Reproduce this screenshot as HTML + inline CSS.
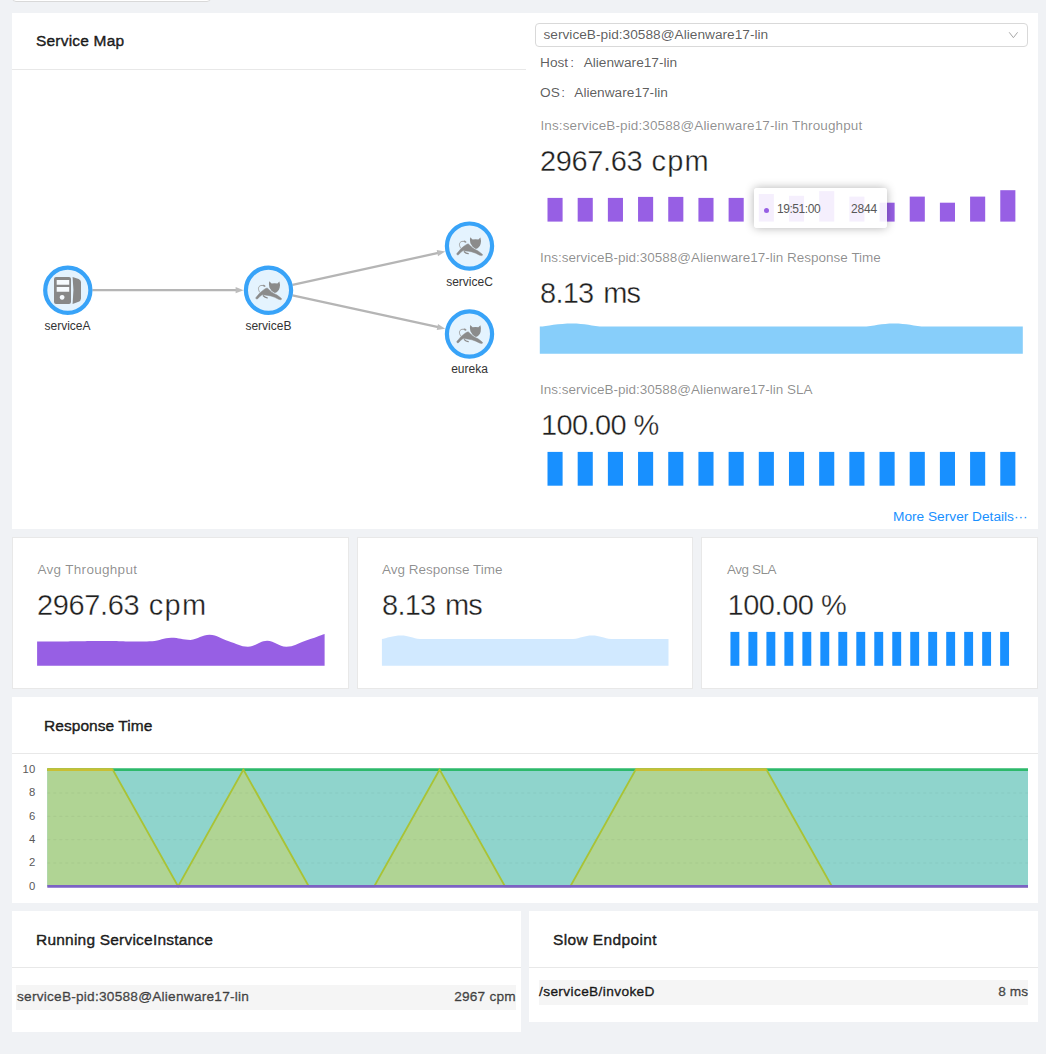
<!DOCTYPE html>
<html>
<head>
<meta charset="utf-8">
<title>Service Dashboard</title>
<style>
*{box-sizing:border-box;margin:0;padding:0}
html,body{width:1046px;height:1054px;overflow:hidden;background:#f0f2f5}
body{font-family:"Liberation Sans",sans-serif;color:rgba(0,0,0,.65);position:relative}
.abs{position:absolute}
.card{position:absolute;background:#fff}
.bcard{position:absolute;background:#fff;border:1px solid #e8e8e8}
.title{position:absolute;font-size:15.5px;font-weight:normal;color:rgba(0,0,0,.85);-webkit-text-stroke:0.45px rgba(0,0,0,.85);white-space:nowrap;line-height:20px;letter-spacing:0}
.hr{position:absolute;height:1px;background:#e8e8e8}
.t{position:absolute;white-space:nowrap;line-height:20px}
.lbl{color:rgba(0,0,0,.45);font-size:13.5px}
.big{color:rgba(0,0,0,.9);font-size:29px;line-height:38px;-webkit-text-stroke:0.35px #fff}
.med{font-size:13.7px;-webkit-text-stroke:0.4px rgba(0,0,0,.65)}
.dk{color:rgba(0,0,0,.85);-webkit-text-stroke:0.4px rgba(0,0,0,.85)}
.row{position:absolute;background:#f5f5f5;height:25px}
svg{position:absolute;overflow:visible}
</style>
</head>
<body>

<!-- top-left cut-off select -->
<div class="abs" style="left:12px;top:-30px;width:199px;height:32px;border:1px solid #d9d9d9;border-radius:4px;background:#fff"></div>

<!-- ===== Card 1 : Service map + instance panel ===== -->
<div class="card" style="left:12px;top:13px;width:1026px;height:516px"></div>
<div class="title" style="left:36px;top:31px;letter-spacing:0.2px">Service Map</div>
<div class="hr" style="left:12px;top:69px;width:514px"></div>

<!-- topology -->
<svg id="topo" style="left:0;top:0" width="525" height="528" viewBox="0 0 525 528">
<g id="edges"><line x1="92.4" y1="290.2" x2="236.6" y2="290.2" stroke="#b5b5b5" stroke-width="2.3"/><polygon points="243.6,290.2 235.6,293.3 235.6,287.1" fill="#bcbcbc"/><line x1="292.5" y1="284.9" x2="438.3" y2="252.9" stroke="#b5b5b5" stroke-width="2.3"/><polygon points="445.2,251.4 438.0,256.2 436.7,250.1" fill="#bcbcbc"/><line x1="292.5" y1="295.4" x2="438.3" y2="327.2" stroke="#b5b5b5" stroke-width="2.3"/><polygon points="445.2,328.7 436.7,330.0 438.0,324.0" fill="#bcbcbc"/></g>
<defs><g id="cat" fill="#8b8b8b">
<path d="M0.7,-8.9 L3.1,-6.7 Q6,-7.2 8.9,-6.7 L10.9,-8.7 Q11.9,-5.5 11.2,-2.6 Q10.2,1.6 6.4,2.9 Q2.6,1.2 0.9,-2.8 Q0,-5.8 0.7,-8.9Z"/>
<path d="M-1.38,-2.23 L0.91,-0.31 L3.20,1.98 L6.27,3.70 L8.56,4.85 L10.86,6.57 L12.96,8.29 L12.90,9.20 L12.00,9.50 L10.09,9.05 L6.27,7.14 L2.44,5.80 L-0.62,5.23 L-3.67,4.85 L-6.35,4.47 L-8.65,6.19 L-10.75,8.48 L-11.60,8.90 L-12.28,8.67 L-12.70,8.10 L-12.66,7.52 L-10.94,5.42 L-8.65,2.74 L-5.97,0.45 L-3.29,-1.46Z" stroke="#8b8b8b" stroke-width="0.5" stroke-linejoin="round"/>
<path d="M-5.2,5.6 Q-3.6,7.3 -1.3,7.6" fill="none" stroke="#8b8b8b" stroke-width="1.3" stroke-linecap="round"/>
<path d="M-8.4,2.4 C-10.6,-0.2 -10.8,-3.8 -7.6,-4.7 L-4.8,-4.8" fill="none" stroke="#9a9a9a" stroke-width="0.9"/>
<ellipse cx="-4.4" cy="-4.4" rx="1.5" ry="0.9" transform="rotate(25 -4.4 -4.4)" fill="#969696"/>
</g></defs>
<circle cx="67.8" cy="290.2" r="22.6" fill="#e4f3fe" stroke="#38a3f8" stroke-width="4.2"/>
<circle cx="268.5" cy="290.2" r="22.6" fill="#e4f3fe" stroke="#38a3f8" stroke-width="4.2"/>
<use href="#cat" x="268.5" y="290.2"/>
<circle cx="469.5" cy="246.1" r="22.6" fill="#e4f3fe" stroke="#38a3f8" stroke-width="4.2"/>
<use href="#cat" x="469.5" y="246.1"/>
<circle cx="469.5" cy="334.0" r="22.6" fill="#e4f3fe" stroke="#38a3f8" stroke-width="4.2"/>
<use href="#cat" x="469.5" y="334.0"/>
<rect x="56" y="279" width="14" height="14" fill="#f6fafd"/><circle cx="62.1" cy="297.3" r="2.8" fill="#f6fafd"/>
<g fill="#888888">
<path d="M56,277.1 h13 a2,2 0 0 1 2,2 v22.8 a2,2 0 0 1 -2,2 h-13 a2,2 0 0 1 -2,-2 v-22.8 a2,2 0 0 1 2,-2 Z M56.7,280 v4.8 h12.5 v-4.8 Z M56.7,287 v4.8 h12.5 v-4.8 Z M62.1,294.9 a2.4,2.4 0 1 0 0.01,0 Z" fill-rule="evenodd"/>
<path d="M72.6,277.1 L78.6,278.9 Q80.8,279.8 81,282 L81,298.4 Q80.8,300.8 78.6,301.8 L72.6,303.9 Q74.3,290.5 72.6,277.1 Z"/>
</g>
<text x="67.5" y="330.2" text-anchor="middle" font-size="12" fill="#333" font-family="Liberation Sans, sans-serif">serviceA</text>
<text x="268.4" y="330.2" text-anchor="middle" font-size="12" fill="#333" font-family="Liberation Sans, sans-serif">serviceB</text>
<text x="469.5" y="285.8" text-anchor="middle" font-size="12" fill="#333" font-family="Liberation Sans, sans-serif">serviceC</text>
<text x="469.5" y="372.9" text-anchor="middle" font-size="12" fill="#333" font-family="Liberation Sans, sans-serif">eureka</text>
</svg>

<!-- right panel -->
<div class="abs" style="left:535px;top:23px;width:493px;height:24px;border:1px solid #d9d9d9;border-radius:4px;background:#fff"></div>
<div class="t" style="left:543.5px;top:25px;font-size:13.7px">serviceB-pid:30588@Alienware17-lin</div>
<svg style="left:1008px;top:30px" width="12" height="10" viewBox="0 0 12 10"><path d="M1.2,2.3 L5.4,7.7 L9.6,2.3" fill="none" stroke="#a8a8a8" stroke-width="1"/></svg>
<div class="t" style="left:540px;top:53px;font-size:13.7px">Host<span style="display:inline-block;width:15.5px;text-align:left;padding-left:2px">:</span>Alienware17-lin</div>
<div class="t" style="left:540px;top:83px;font-size:13.7px">OS<span style="display:inline-block;width:14.5px;text-align:left;padding-left:1.5px">:</span>Alienware17-lin</div>

<div class="t lbl" style="left:540.5px;top:116px;letter-spacing:0.12px">Ins:serviceB-pid:30588@Alienware17-lin Throughput</div>
<div class="t big" style="left:540px;top:142px"><span style="letter-spacing:-0.35px">2967.63</span><span style="letter-spacing:1.1px"> cpm</span></div>

<div class="t lbl" style="left:540px;top:248px">Ins:serviceB-pid:30588@Alienware17-lin Response Time</div>
<div class="t big" style="left:540px;top:274px;letter-spacing:-0.75px;word-spacing:2.4px">8.13 ms</div>

<div class="t lbl" style="left:540px;top:380px">Ins:serviceB-pid:30588@Alienware17-lin SLA</div>
<div class="t big" style="left:541px;top:406px;letter-spacing:-0.6px">100.00 %</div>

<svg style="left:0;top:0" width="1046" height="540" viewBox="0 0 1046 540"><rect x="547.50" y="197.9" width="15.1" height="23.7" fill="#975fe4"/><rect x="577.68" y="197.9" width="15.1" height="23.7" fill="#975fe4"/><rect x="607.87" y="197.9" width="15.1" height="23.7" fill="#975fe4"/><rect x="638.05" y="196.9" width="15.1" height="24.7" fill="#975fe4"/><rect x="668.24" y="196.9" width="15.1" height="24.7" fill="#975fe4"/><rect x="698.42" y="197.9" width="15.1" height="23.7" fill="#975fe4"/><rect x="728.61" y="197.9" width="15.1" height="23.7" fill="#975fe4"/><rect x="758.79" y="194.0" width="15.1" height="27.6" fill="#975fe4"/><rect x="788.98" y="195.8" width="15.1" height="25.8" fill="#975fe4"/><rect x="819.16" y="191.1" width="15.1" height="30.5" fill="#975fe4"/><rect x="849.35" y="196.6" width="15.1" height="25.0" fill="#975fe4"/><rect x="879.53" y="202.7" width="15.1" height="18.9" fill="#975fe4"/><rect x="909.72" y="196.6" width="15.1" height="25.0" fill="#975fe4"/><rect x="939.90" y="202.7" width="15.1" height="18.9" fill="#975fe4"/><rect x="970.09" y="196.6" width="15.1" height="25.0" fill="#975fe4"/><rect x="1000.27" y="190.2" width="15.1" height="31.4" fill="#975fe4"/><path d="M539.80,326.60 C546.24,325.96 559.12,323.40 572.00,323.40 C584.88,323.40 591.32,325.96 604.20,326.60 C617.08,326.60 623.52,326.60 636.40,326.60 C649.28,326.60 655.72,326.60 668.60,326.60 C681.48,326.60 687.92,326.60 700.80,326.60 C713.68,326.60 720.12,326.60 733.00,326.60 C745.88,326.60 752.32,326.60 765.20,326.60 C778.08,326.60 784.52,326.60 797.40,326.60 C810.28,326.60 816.72,326.60 829.60,326.60 C842.48,326.60 848.92,326.60 861.80,326.60 C874.68,325.96 881.12,323.40 894.00,323.40 C906.88,323.40 913.32,325.96 926.20,326.60 C939.08,326.60 945.52,326.60 958.40,326.60 C971.28,326.60 977.72,326.60 990.60,326.60 C1003.48,326.60 1016.36,326.60 1022.80,326.60 L1022.80,353.7 L539.80,353.7 Z" fill="#87cefa"/><rect x="547.50" y="451.9" width="15.1" height="33.8" fill="#1890ff"/><rect x="577.68" y="451.9" width="15.1" height="33.8" fill="#1890ff"/><rect x="607.87" y="451.9" width="15.1" height="33.8" fill="#1890ff"/><rect x="638.05" y="451.9" width="15.1" height="33.8" fill="#1890ff"/><rect x="668.24" y="451.9" width="15.1" height="33.8" fill="#1890ff"/><rect x="698.42" y="451.9" width="15.1" height="33.8" fill="#1890ff"/><rect x="728.61" y="451.9" width="15.1" height="33.8" fill="#1890ff"/><rect x="758.79" y="451.9" width="15.1" height="33.8" fill="#1890ff"/><rect x="788.98" y="451.9" width="15.1" height="33.8" fill="#1890ff"/><rect x="819.16" y="451.9" width="15.1" height="33.8" fill="#1890ff"/><rect x="849.35" y="451.9" width="15.1" height="33.8" fill="#1890ff"/><rect x="879.53" y="451.9" width="15.1" height="33.8" fill="#1890ff"/><rect x="909.72" y="451.9" width="15.1" height="33.8" fill="#1890ff"/><rect x="939.90" y="451.9" width="15.1" height="33.8" fill="#1890ff"/><rect x="970.09" y="451.9" width="15.1" height="33.8" fill="#1890ff"/><rect x="1000.27" y="451.9" width="15.1" height="33.8" fill="#1890ff"/></svg>
<div class="abs" style="left:754px;top:188px;width:133px;height:40px;background:rgba(255,255,255,.9);border-radius:3px;box-shadow:0 0 10px rgba(0,0,0,.3)"></div>
<div class="abs" style="left:764px;top:208px;width:5px;height:5px;border-radius:50%;background:#975fe4"></div>
<div class="t" style="left:777px;top:199px;font-size:12px;color:#575757;letter-spacing:-0.45px">19:51:00</div>
<div class="t" style="left:851px;top:199px;font-size:12px;color:#575757;letter-spacing:-0.2px">2844</div>
<div class="t" style="left:893px;top:507px;font-size:13.7px;color:#1890ff">More Server Details···</div>

<!-- ===== Row 2 ===== -->
<div class="bcard" style="left:12px;top:537px;width:337px;height:152px"></div>
<div class="bcard" style="left:357px;top:537px;width:336px;height:152px"></div>
<div class="bcard" style="left:701px;top:537px;width:337px;height:152px"></div>

<div class="t lbl" style="left:37.5px;top:560px;letter-spacing:0.3px">Avg Throughput</div>
<div class="t big" style="left:37px;top:586px"><span style="letter-spacing:-0.35px">2967.63</span><span style="letter-spacing:1.3px"> cpm</span></div>
<div class="t lbl" style="left:382px;top:560px">Avg Response Time</div>
<div class="t big" style="left:382px;top:586px;letter-spacing:-0.75px;word-spacing:2.2px">8.13 ms</div>
<div class="t lbl" style="left:727px;top:560px;letter-spacing:-0.45px">Avg SLA</div>
<div class="t big" style="left:727.5px;top:586px;letter-spacing:-0.45px">100.00 %</div>

<svg style="left:0;top:0" width="1046" height="700" viewBox="0 0 1046 700"><path d="M37.10,641.60 C40.93,641.60 48.60,641.60 56.27,641.60 C63.93,641.54 67.77,641.42 75.43,641.30 C83.10,641.18 86.93,641.06 94.60,641.00 C102.27,641.00 106.10,641.00 113.77,641.00 C121.43,641.12 125.27,641.54 132.94,641.60 C140.60,641.60 144.44,641.60 152.10,641.30 C159.77,640.54 163.60,638.08 171.27,637.80 C178.94,637.80 182.77,639.90 190.44,639.90 C198.10,639.30 201.94,634.80 209.60,634.80 C217.27,635.08 221.10,638.92 228.77,641.30 C236.44,643.68 240.27,646.70 247.94,646.70 C255.60,646.58 259.44,640.70 267.10,640.70 C274.77,640.70 278.60,646.70 286.27,646.70 C293.94,646.70 297.77,643.26 305.44,640.70 C313.10,638.14 320.77,635.26 324.61,633.90 L324.61,665.8 L37.10,665.8 Z" fill="#975fe4"/><path d="M381.90,639.00 C385.72,638.30 393.36,635.50 401.01,635.50 C408.65,635.50 412.47,638.30 420.11,639.00 C427.76,639.00 431.58,639.00 439.22,639.00 C446.86,639.00 450.69,639.00 458.33,639.00 C465.97,639.00 469.79,639.00 477.43,639.00 C485.08,639.00 488.90,639.00 496.54,639.00 C504.18,639.00 508.01,639.00 515.65,639.00 C523.29,639.00 527.11,639.00 534.76,639.00 C542.40,639.00 546.22,639.00 553.86,639.00 C561.51,639.00 565.33,639.00 572.97,639.00 C580.61,638.30 584.43,635.50 592.08,635.50 C599.72,635.50 603.54,638.30 611.18,639.00 C618.83,639.00 622.65,639.00 630.29,639.00 C637.93,639.00 641.76,639.00 649.40,639.00 C657.04,639.00 664.68,639.00 668.50,639.00 L668.50,665.8 L381.90,665.8 Z" fill="#d1e9ff"/><rect x="730.45" y="631.9" width="8.9" height="33.9" fill="#1890ff"/><rect x="748.43" y="631.9" width="8.9" height="33.9" fill="#1890ff"/><rect x="766.41" y="631.9" width="8.9" height="33.9" fill="#1890ff"/><rect x="784.39" y="631.9" width="8.9" height="33.9" fill="#1890ff"/><rect x="802.37" y="631.9" width="8.9" height="33.9" fill="#1890ff"/><rect x="820.35" y="631.9" width="8.9" height="33.9" fill="#1890ff"/><rect x="838.33" y="631.9" width="8.9" height="33.9" fill="#1890ff"/><rect x="856.31" y="631.9" width="8.9" height="33.9" fill="#1890ff"/><rect x="874.29" y="631.9" width="8.9" height="33.9" fill="#1890ff"/><rect x="892.27" y="631.9" width="8.9" height="33.9" fill="#1890ff"/><rect x="910.25" y="631.9" width="8.9" height="33.9" fill="#1890ff"/><rect x="928.23" y="631.9" width="8.9" height="33.9" fill="#1890ff"/><rect x="946.21" y="631.9" width="8.9" height="33.9" fill="#1890ff"/><rect x="964.19" y="631.9" width="8.9" height="33.9" fill="#1890ff"/><rect x="982.17" y="631.9" width="8.9" height="33.9" fill="#1890ff"/><rect x="1000.15" y="631.9" width="8.9" height="33.9" fill="#1890ff"/></svg>
<!-- ===== Row 3 : Response time ===== -->
<div class="card" style="left:12px;top:697px;width:1026px;height:206px"></div>
<div class="title" style="left:44px;top:716px;letter-spacing:0.05px">Response Time</div>
<div class="hr" style="left:12px;top:753px;width:1026px"></div>

<svg style="left:0;top:0" width="1046" height="910" viewBox="0 0 1046 910"><rect x="47.3" y="769.6" width="980.7" height="116.8" fill="#8fd4cc"/><polygon points="47.3,886.4 47.3,769.6 112.7,769.6 178.1,886.4 243.4,769.6 308.8,886.4 374.2,886.4 439.6,769.6 505.0,886.4 570.3,886.4 635.7,769.6 701.1,769.6 766.5,769.6 831.9,886.4 897.2,886.4 962.6,886.4 1028.0,886.4 1028.0,886.4" fill="#b0d494"/><line x1="47.3" y1="863.0" x2="1028.0" y2="863.0" stroke="#000" stroke-opacity="0.05" stroke-width="1" stroke-dasharray="3 3"/><line x1="47.3" y1="839.7" x2="1028.0" y2="839.7" stroke="#000" stroke-opacity="0.05" stroke-width="1" stroke-dasharray="3 3"/><line x1="47.3" y1="816.3" x2="1028.0" y2="816.3" stroke="#000" stroke-opacity="0.05" stroke-width="1" stroke-dasharray="3 3"/><line x1="47.3" y1="793.0" x2="1028.0" y2="793.0" stroke="#000" stroke-opacity="0.05" stroke-width="1" stroke-dasharray="3 3"/><line x1="47.3" y1="769.6" x2="1028.0" y2="769.6" stroke="#2db96b" stroke-width="2.8"/><polyline points="47.3,769.6 112.7,769.6 178.1,886.4 243.4,769.6 308.8,886.4 374.2,886.4 439.6,769.6 505.0,886.4 570.3,886.4 635.7,769.6 701.1,769.6 766.5,769.6 831.9,886.4 897.2,886.4 962.6,886.4 1028.0,886.4" fill="none" stroke="#a9c335" stroke-width="1.9" stroke-linejoin="miter"/><line x1="47.3" y1="769.6" x2="112.7" y2="769.6" stroke="#c9bf33" stroke-width="2.6"/><line x1="635.7" y1="769.6" x2="701.1" y2="769.6" stroke="#c9bf33" stroke-width="2.6"/><line x1="701.1" y1="769.6" x2="766.5" y2="769.6" stroke="#c9bf33" stroke-width="2.6"/><line x1="47.3" y1="886.4" x2="1028.0" y2="886.4" stroke="#7b62c4" stroke-width="2.8"/><text x="35.2" y="889.7" text-anchor="end" font-size="11.3" fill="#595959" font-family="Liberation Sans, sans-serif">0</text><text x="35.2" y="866.3" text-anchor="end" font-size="11.3" fill="#595959" font-family="Liberation Sans, sans-serif">2</text><text x="35.2" y="843.0" text-anchor="end" font-size="11.3" fill="#595959" font-family="Liberation Sans, sans-serif">4</text><text x="35.2" y="819.6" text-anchor="end" font-size="11.3" fill="#595959" font-family="Liberation Sans, sans-serif">6</text><text x="35.2" y="796.3" text-anchor="end" font-size="11.3" fill="#595959" font-family="Liberation Sans, sans-serif">8</text><text x="35.2" y="772.9" text-anchor="end" font-size="11.3" fill="#595959" font-family="Liberation Sans, sans-serif">10</text></svg>
<!-- ===== Row 4 ===== -->
<div class="card" style="left:12px;top:911px;width:509px;height:121px"></div>
<div class="title" style="left:36px;top:930px;letter-spacing:0.21px">Running ServiceInstance</div>
<div class="hr" style="left:12px;top:967px;width:509px"></div>
<div class="row" style="left:16px;top:985px;width:500px"></div>
<div class="t med" style="left:17px;top:987px;letter-spacing:0.22px">serviceB-pid:30588@Alienware17-lin</div>
<div class="t med" style="right:530px;top:987px;letter-spacing:0.22px">2967 cpm</div>

<div class="card" style="left:529px;top:911px;width:509px;height:110.5px"></div>
<div class="title" style="left:553px;top:930px;letter-spacing:0.38px">Slow Endpoint</div>
<div class="hr" style="left:529px;top:967px;width:509px"></div>
<div class="row" style="left:539px;top:980px;width:489px"></div>
<div class="t med dk" style="left:539px;top:982px;letter-spacing:0.37px">/serviceB/invokeD</div>
<div class="t med" style="right:18px;top:982px">8 ms</div>

</body>
</html>
